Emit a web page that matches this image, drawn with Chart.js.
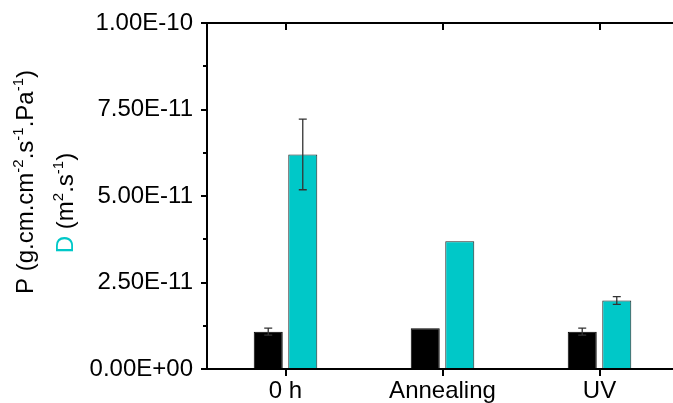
<!DOCTYPE html>
<html>
<head>
<meta charset="utf-8">
<script src="https://cdn.jsdelivr.net/npm/chart.js@4"></script>
<style>
  html, body { margin: 0; padding: 0; background: #fff; overflow: hidden; }
  #wrap { width: 673px; height: 403px; overflow: hidden; }
</style>
</head>
<body>
<div id="wrap"><canvas id="c" width="678" height="403"></canvas></div>
<script>
const categories = ['0 h', 'Annealing', 'UV'];
const pValues = [1.08e-11, 1.18e-11, 1.08e-11];
const pErrors = [0.10e-11, 0, 0.10e-11];
const dValues = [6.20e-11, 3.69e-11, 1.98e-11];
const dErrors = [1.02e-11, 0, 0.11e-11];
const yTickValues = [0, 2.5e-11, 5e-11, 7.5e-11, 1e-10];
const yTickLabels = ['0.00E+00', '2.50E-11', '5.00E-11', '7.50E-11', '1.00E-10'];
const yMinorValues = [1.25e-11, 3.75e-11, 6.25e-11, 8.75e-11];
const titleLine1 = [['P (g.cm.cm', 0], ['-2', 1], ['.s', 0], ['-1', 1], ['.Pa', 0], ['-1', 1], [')', 0]];
const titleLine2 = [['D', 2], [' (m', 0], ['2', 1], ['.s', 0], ['-1', 1], [')', 0]];

const CYAN = '#00C8C8';
const FONT = 'Liberation Sans, Arial, sans-serif';

const errorBars = {
  id: 'errorBars',
  afterDatasetsDraw(chart) {
    const ctx = chart.ctx, y = chart.scales.y;
    const errs = [pErrors, dErrors];
    const vals = [pValues, dValues];
    ctx.save();
    ctx.strokeStyle = '#333';
    ctx.lineWidth = 1.3;
    chart.data.datasets.forEach((ds, di) => {
      const meta = chart.getDatasetMeta(di);
      meta.data.forEach((el, i) => {
        const e = errs[di][i];
        if (!e) return;
        const v = vals[di][i];
        const yt = y.getPixelForValue(v + e), yb = y.getPixelForValue(v - e);
        const x = el.x, hw = 4;
        ctx.beginPath();
        ctx.moveTo(x, yt); ctx.lineTo(x, yb);
        ctx.moveTo(x - hw, yt); ctx.lineTo(x + hw, yt);
        ctx.moveTo(x - hw, yb); ctx.lineTo(x + hw, yb);
        ctx.stroke();
      });
    });
    ctx.restore();
  }
};

const frame = {
  id: 'frame',
  afterDraw(chart) {
    const ctx = chart.ctx, a = chart.chartArea, x = chart.scales.x, y = chart.scales.y;
    ctx.save();
    ctx.strokeStyle = '#000';
    ctx.lineWidth = 2;
    ctx.beginPath();
    ctx.moveTo(a.left - 1, a.top);
    ctx.lineTo(chart.width, a.top);
    categories.forEach((c, i) => {
      const px = Math.round(x.getPixelForValue(i));
      ctx.moveTo(px, a.top);
      ctx.lineTo(px, a.top + 7);
      ctx.moveTo(px, a.bottom);
      ctx.lineTo(px, a.bottom + 7);
    });
    yMinorValues.forEach(v => {
      const py = Math.round(y.getPixelForValue(v));
      ctx.moveTo(a.left, py);
      ctx.lineTo(a.left - 4, py);
    });
    ctx.stroke();

    function drawLine(segs, baseX, centerY) {
      ctx.save();
      ctx.translate(baseX, centerY);
      ctx.rotate(-Math.PI / 2);
      ctx.textBaseline = 'alphabetic';
      ctx.textAlign = 'left';
      let total = 0;
      segs.forEach(([t, k]) => {
        ctx.font = (k === 1 ? '15px ' : '24px ') + FONT;
        total += ctx.measureText(t).width;
      });
      let cx = -total / 2;
      segs.forEach(([t, k]) => {
        ctx.font = (k === 1 ? '15px ' : '24px ') + FONT;
        ctx.fillStyle = k === 2 ? CYAN : '#000';
        ctx.fillText(t, cx, k === 1 ? -10 : 0);
        cx += ctx.measureText(t).width;
      });
      ctx.restore();
    }
    drawLine(titleLine1, 33, 182);
    drawLine(titleLine2, 73, 203);
    ctx.restore();
  }
};

new Chart(document.getElementById('c'), {
  type: 'bar',
  data: {
    labels: categories,
    datasets: [
      {
        label: 'P',
        data: pValues,
        backgroundColor: '#000',
        borderColor: '#000',
        borderWidth: 1,
        categoryPercentage: 0.44,
        barPercentage: 0.84
      },
      {
        label: 'D',
        data: dValues,
        backgroundColor: CYAN,
        borderColor: '#222',
        borderWidth: 1,
        categoryPercentage: 0.44,
        barPercentage: 0.84
      }
    ]
  },
  options: {
    responsive: false,
    animation: false,
    devicePixelRatio: 1,
    layout: { padding: { top: 23, right: 0, left: 0, bottom: 0 } },
    plugins: { legend: { display: false }, tooltip: { enabled: false }, title: { display: false } },
    scales: {
      x: {
        type: 'category',
        afterFit: s => { s.height = 34; },
        ticks: {
          font: { family: FONT, size: 24 },
          color: '#000',
          padding: 1,
          autoSkip: false,
          maxRotation: 0
        },
        grid: { display: true, offset: false, drawOnChartArea: false, drawTicks: true, tickLength: 7, lineWidth: 2, color: '#000' },
        border: { display: true, width: 2, color: '#000' }
      },
      y: {
        min: 0,
        max: 1e-10,
        afterBuildTicks: s => { s.ticks = yTickValues.map(v => ({ value: v })); },
        afterFit: s => { s.width = 207; },
        ticks: {
          callback: (v, i) => yTickLabels[i],
          font: { family: FONT, size: 24 },
          color: '#000',
          padding: 8
        },
        grid: { display: true, drawOnChartArea: false, drawTicks: true, tickLength: 6, lineWidth: 2, color: '#000' },
        border: { display: true, width: 2, color: '#000' }
      }
    }
  },
  plugins: [errorBars, frame]
});
</script>
</body>
</html>
